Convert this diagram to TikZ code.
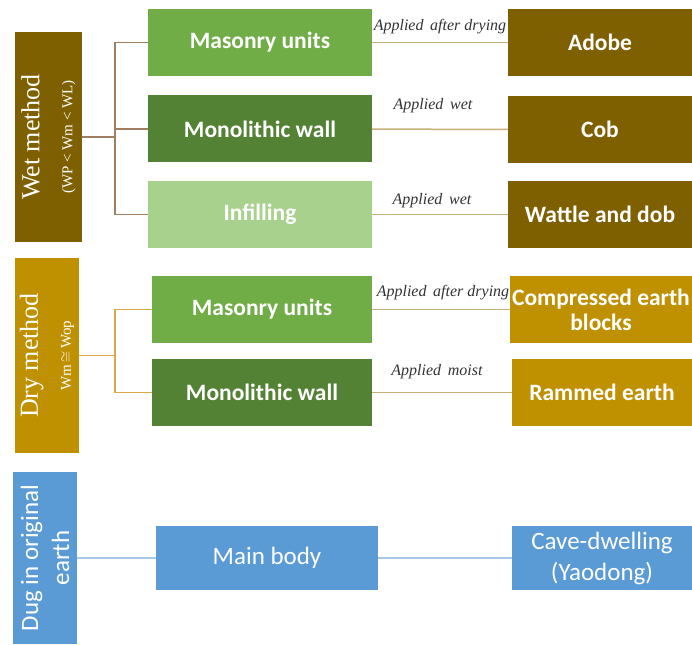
\documentclass[tikz,border=0pt]{standalone}
\usepackage{fontspec}
\setmainfont{Liberation Serif}
\newfontfamily\calibri{Carlito}

\definecolor{wetbrown}{HTML}{7F6000}
\definecolor{drygold}{HTML}{BF9000}
\definecolor{midgreen}{HTML}{70AD47}
\definecolor{darkgreen}{HTML}{548235}
\definecolor{palegreen}{HTML}{A9D18E}
\definecolor{earthblue}{HTML}{5B9BD5}
\definecolor{wetline}{HTML}{A07E62}
\definecolor{dryline}{HTML}{DDA84A}
\definecolor{tanline}{HTML}{C7AF7A}
\definecolor{blueline}{HTML}{A8C8E8}
\definecolor{labelgray}{HTML}{333333}

\begin{document}
\begin{tikzpicture}[x=1pt, y=-1pt,
    box/.style={rectangle, inner sep=0pt, minimum width=224pt, minimum height=67pt,
      align=center, text=white, font=\calibri\bfseries\fontsize{23.5}{25}\selectfont},
    endbox/.style={box, minimum width=184pt},
    plainbox/.style={box, minimum height=64pt, font=\calibri\fontsize{25}{31}\selectfont},
    sidebox/.style={rectangle, rotate=90, inner sep=0pt, align=center, text=white,
      font=\fontsize{26}{33}\selectfont},
    applied/.style={text=labelgray, font=\itshape\fontsize{16}{18}\selectfont},
    link/.style={line width=1.5pt}]
    \useasboundingbox (0,0) rectangle (692,644);

    % Left column
    \node[sidebox, fill=wetbrown, minimum width=210pt, minimum height=67pt] (wet) at (48.5,137)
        {Wet method\\{\fontsize{15}{33}\selectfont (WP < Wm < WL)}};
    \node[sidebox, fill=drygold, minimum width=195pt, minimum height=64pt] (dry) at (47,355.5)
        {Dry method\\{\fontsize{15}{33}\selectfont Wm$\,\cong\,$Wop}};
    \node[sidebox, fill=earthblue, minimum width=172pt, minimum height=64pt,
        font=\calibri\fontsize{25}{31}\selectfont] (dug) at (45,558) {Dug in original\\earth};

    % Middle column
    \node[box, fill=midgreen] (mu1) at (260,42.5) {Masonry units};
    \node[box, fill=darkgreen] (mw1) at (260,129) {Monolithic wall};
    \node[box, fill=palegreen] (inf) at (260,214.5) {Infilling};
    \node[box, fill=midgreen, minimum width=220pt] (mu2) at (262,309.5) {Masonry units};
    \node[box, fill=darkgreen, minimum width=220pt] (mw2) at (262,392.5) {Monolithic wall};
    \node[plainbox, fill=earthblue, minimum width=222pt] (body) at (267,558) {Main body};

    % Right column
    \node[endbox, fill=wetbrown] (adobe) at (600,42.5) {Adobe};
    \node[endbox, fill=wetbrown] (cob) at (600,129.5) {Cob};
    \node[endbox, fill=wetbrown] (wattle) at (600,214.5) {Wattle and dob};
    \node[endbox, fill=drygold, minimum width=182pt] (ceb) at (601,309.5) {Compressed earth\\blocks};
    \node[endbox, fill=drygold, minimum width=180pt] (rammed) at (602,392.5) {Rammed earth};
    \node[plainbox, fill=earthblue, minimum width=180pt] (cave) at (602,558) {Cave-dwelling\\(Yaodong)};

    % Branches
    \coordinate (wj) at (115,137);
    \coordinate (dj) at (115,355.5);
    \draw[link, wetline] (wet) -- (wj);
    \foreach \n in {mu1,mw1,inf} \draw[link, wetline] (wj) |- (\n);
    \draw[link, dryline] (dry) -- (dj);
    \foreach \n in {mu2,mw2} \draw[link, dryline] (dj) |- (\n);

    % Links to the earth techniques
    \draw[link, tanline] (mu1) -- (adobe);
    \draw[link, tanline] (mw1) -- (cob);
    \draw[link, tanline] (inf) -- (wattle);
    \draw[link, tanline] (mu2) -- (ceb);
    \draw[link, tanline] (mw2) -- (rammed);
    \draw[link, blueline] (dug) -- (body);
    \draw[link, blueline] (body) -- (cave);

    % Labels over the links
    \node[applied] (lab1) at (440,27) {Applied\, after drying};
    \node[applied] (lab2) at (433,106) {Applied\, wet};
    \node[applied] (lab3) at (432,201) {Applied\, wet};
    \node[applied] (lab4) at (443,293) {Applied\, after drying};
    \node[applied] (lab5) at (437,372) {Applied\, moist};
\end{tikzpicture}
\end{document}
